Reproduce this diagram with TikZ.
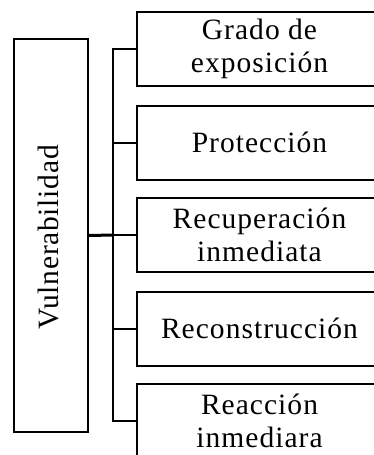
\documentclass[tikz,border=0pt]{standalone}
\usepackage{fontspec}
\setmainfont{Liberation Serif}[LetterSpace=3.5]
\begin{document}
\begin{tikzpicture}[x=1pt,y=-1pt,
  box/.style={draw, line width=2pt, minimum width=245pt, minimum height=74pt, align=center, inner sep=0pt, font=\fontsize{29.5}{32.8}\selectfont},
  conn/.style={line width=2pt},
  thickconn/.style={line width=3pt}]
\path[use as bounding box] (0,0) rectangle (374,455);
\clip (0,0) rectangle (374,455);
\node[box, minimum width=393pt, rotate=90, text height=20pt, text depth=5.5pt] (v) at (51,235.5) {\addfontfeature{LetterSpace=2.5}Vulnerabilidad\hspace{4pt}};
\node[box] (b1) at (259.5,49) {Grado de\\exposición};
\node[box] (b2) at (259.5,142.5) {Protección};
\node[box] (b3) at (259.5,235) {Recuperación\\inmediata};
\node[box] (b4) at (259.5,328.5) {Reconstrucción};
\node[box] (b5) at (259.5,421) {Reacción\\inmediara};
\coordinate (j) at (113,235);
\draw[conn] (b1.west) -- (b1.west -| j) -- (b5.west -| j) -- (b5.west);
\draw[conn] (b2.west) -- (b2.west -| j);
\draw[conn] (b3.west) -- (b3.west -| j);
\draw[conn] (b4.west) -- (b4.west -| j);
\draw[thickconn] (v.south) -- (j);
\end{tikzpicture}
\end{document}
